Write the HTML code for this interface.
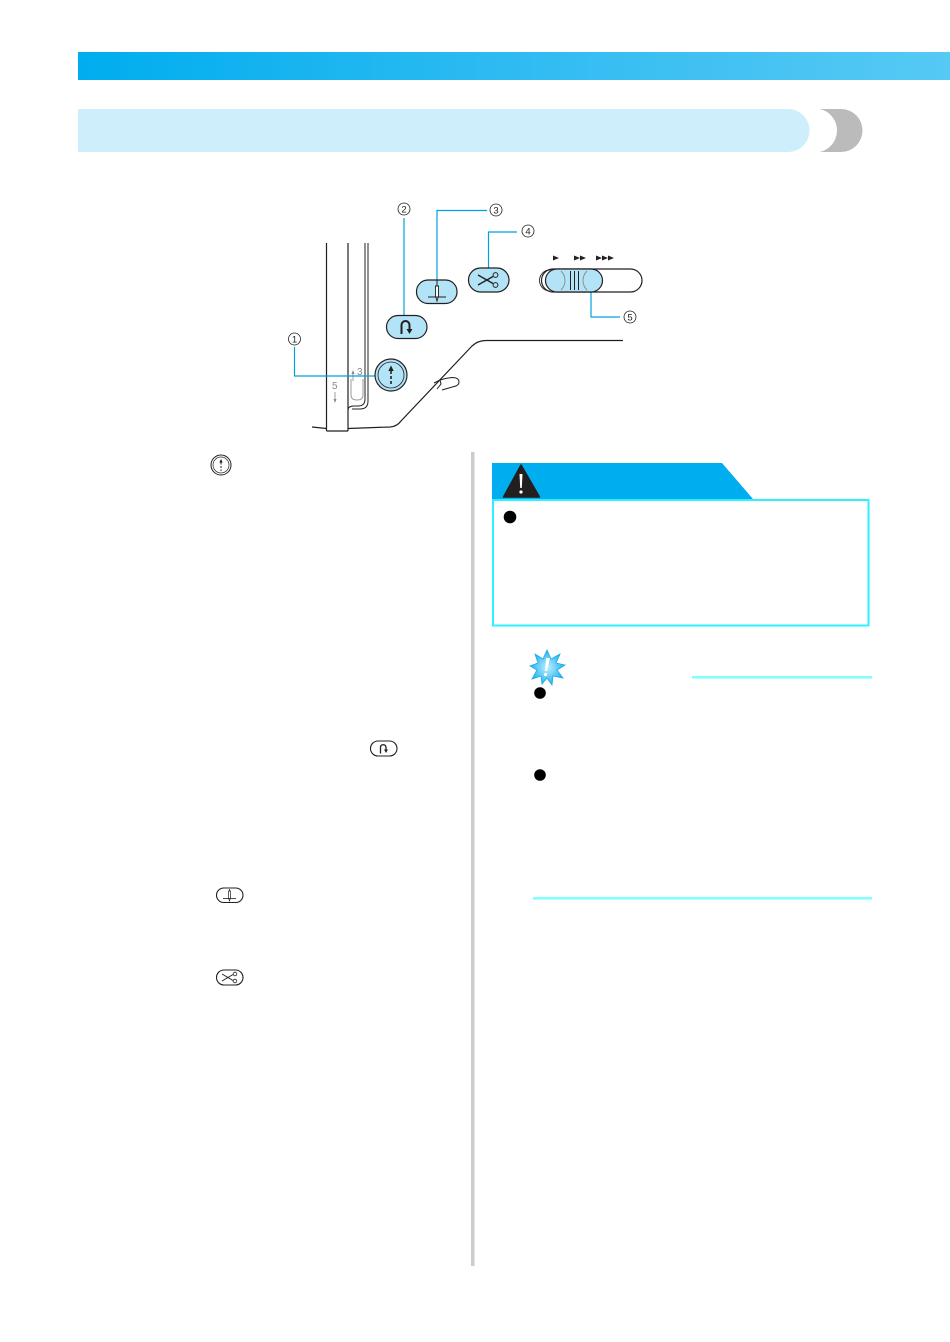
<!DOCTYPE html>
<html><head><meta charset="utf-8">
<style>
html,body{margin:0;padding:0;background:#fff;}
body{width:950px;height:1342px;overflow:hidden;position:relative;font-family:"Liberation Sans","DejaVu Sans",sans-serif;}
svg{position:absolute;left:0;top:0;}
</style></head><body>
<svg width="950" height="1342" viewBox="0 0 950 1342" xmlns="http://www.w3.org/2000/svg">
<defs>
<linearGradient id="tb" x1="0" x2="1" y1="0" y2="0">
<stop offset="0" stop-color="#00adee"/>
<stop offset="0.6" stop-color="#38bef2"/>
<stop offset="1" stop-color="#56c9f4"/>
</linearGradient>
<radialGradient id="star" cx="0.5" cy="0.5" r="0.5">
<stop offset="0" stop-color="#bfeeff"/>
<stop offset="1" stop-color="#1fb3ee"/>
</radialGradient>
</defs>

<!-- top bar -->
<rect x="78" y="52" width="872" height="28" fill="url(#tb)"/>

<!-- section title bar -->
<path d="M816 109 H841 A21.5 21.5 0 0 1 841 152 H816 Z" fill="#bbbbbb"/>
<circle cx="815" cy="130.5" r="22" fill="#fff"/>
<path d="M78 109 H788 A21.5 21.5 0 0 1 788 152 H78 Z" fill="#cdeefa"/>

<!-- ===== Diagram ===== -->
<g fill="none" stroke="#231f20" stroke-width="1.2">
  <line x1="326.5" y1="243" x2="326.5" y2="431"/>
  <line x1="348" y1="243" x2="348" y2="431"/>
  <line x1="326.5" y1="431" x2="348" y2="431"/>
  <path d="M312 427 L326.5 428.5"/>
  <path d="M365 243 V399 Q365 406 358 406 H354 Q348 406 348 410" stroke-width="1"/>
  <path d="M368 243 V401 Q368 409 360 409 H352" stroke-width="1"/>
  <path d="M348 428.5 L390 427 Q397 426.5 401 421 L472 346 Q478 340.5 486 340.5 L623 340.5"/>
  <path d="M434 383 L440 380 Q446 378 452 377.5 Q459 377.5 459 382 Q459 385.5 454 386.5 L442 390" stroke-width="1"/>
  <path d="M440 380 L441 384 L437 389" stroke-width="1"/>
</g>
<path d="M351 379 V395 Q351 400 357 400 Q363 400 363 395 V379" fill="none" stroke="#9a9a9a" stroke-width="1"/>
<text x="357" y="375" font-family="Liberation Sans, sans-serif" font-size="10" fill="#888">3</text>
<path d="M353 370 L351.5 374 H354.5 Z" fill="#888"/>
<line x1="353" y1="373" x2="353" y2="381" stroke="#888" stroke-width="0.8"/>
<text x="332" y="389" font-family="Liberation Sans, sans-serif" font-size="10" fill="#888">5</text>
<line x1="335" y1="392" x2="335" y2="400" stroke="#888" stroke-width="0.8"/>
<path d="M335 403 L333.5 399 H336.5 Z" fill="#888"/>

<!-- leader lines (blue) -->
<g fill="none" stroke="#00a0e0" stroke-width="1.2">
  <path d="M294.5 347 V376 H375"/>
  <path d="M404 218 V317"/>
  <path d="M487 210.5 H437 V280"/>
  <path d="M517 232 H488.5 V268"/>
  <path d="M591 292 V317 H620"/>
</g>

<!-- circled numbers -->
<g fill="none" stroke="#231f20" stroke-width="0.8">
  <circle cx="294.5" cy="339" r="6"/>
  <circle cx="404" cy="209" r="6"/>
  <circle cx="496" cy="210" r="6"/>
  <circle cx="528" cy="231" r="6"/>
  <circle cx="630" cy="317" r="6"/>
</g>
<g font-family="Liberation Sans, sans-serif" font-size="9.5" fill="#231f20" text-anchor="middle">
  <text x="294.5" y="342.5">1</text>
  <text x="404" y="212.5">2</text>
  <text x="496" y="213.5">3</text>
  <text x="528" y="234.5">4</text>
  <text x="630" y="320.5">5</text>
</g>

<!-- button 1 circle -->
<circle cx="391" cy="375" r="16" fill="#b3e3f6" stroke="#231f20" stroke-width="1.2"/>
<circle cx="391" cy="375" r="13" fill="none" stroke="#231f20" stroke-width="0.8"/>
<path d="M391 365.5 L388.3 371 H393.7 Z" fill="#231f20"/>
<line x1="391" y1="371" x2="391" y2="385" stroke="#231f20" stroke-width="1.6" stroke-dasharray="3,2"/>

<!-- button 2 -->
<rect x="386.5" y="315.5" width="40.5" height="23" rx="11.5" fill="#b3e3f6" stroke="#231f20" stroke-width="1.2"/>
<path d="M401.5 334 V325 A4 4 0 0 1 409.5 325 V329" fill="none" stroke="#231f20" stroke-width="2"/>
<path d="M406.5 329 H412.5 L409.5 334 Z" fill="#231f20"/>

<!-- button 3 -->
<rect x="416.5" y="280" width="40.5" height="23.5" rx="11.5" fill="#b3e3f6" stroke="#231f20" stroke-width="1.2"/>
<line x1="437" y1="280" x2="437" y2="301" stroke="#231f20" stroke-width="1"/>
<path d="M435.5 286 H438.5 V296 L437 301 L435.5 296 Z" fill="#fff" stroke="#231f20" stroke-width="0.9"/>
<line x1="428" y1="297" x2="446" y2="297" stroke="#231f20" stroke-width="1"/>

<!-- button 4 -->
<rect x="468.5" y="268" width="40.5" height="24" rx="12" fill="#b3e3f6" stroke="#231f20" stroke-width="1.2"/>
<g stroke="#231f20" stroke-width="1.3" fill="none">
  <line x1="478" y1="275" x2="493" y2="283.5"/>
  <line x1="478" y1="285" x2="493" y2="276.5"/>
  <circle cx="495.5" cy="275" r="2.4" stroke-width="1"/>
  <circle cx="495.5" cy="285" r="2.4" stroke-width="1"/>
</g>

<!-- slider -->
<rect x="541.5" y="269" width="100.5" height="23" rx="11.5" fill="#fff" stroke="#231f20" stroke-width="1.2"/>
<path d="M550 270 A10.5 10.5 0 0 0 550 291" fill="none" stroke="#231f20" stroke-width="0.9"/>
<rect x="545.5" y="269" width="57" height="23" rx="11.5" fill="#b3e3f6" stroke="#231f20" stroke-width="1.2"/>
<g stroke="#231f20" stroke-width="1">
  <line x1="570.5" y1="271" x2="570.5" y2="290"/>
  <line x1="574.5" y1="271" x2="574.5" y2="290"/>
  <line x1="578.5" y1="271" x2="578.5" y2="290"/>
</g>
<path d="M561 271 Q565 275 565 280.5 Q565 286 561 290" fill="none" stroke="#888" stroke-width="0.9"/>
<path d="M587 271 Q583 275 583 280.5 Q583 286 587 290" fill="none" stroke="#888" stroke-width="0.9"/>
<g fill="#231f20">
  <path d="M553 255.5 L559 258 L553 260.5 Z"/>
  <path d="M574 255.5 L580 258 L574 260.5 Z"/>
  <path d="M580 255.5 L586 258 L580 260.5 Z"/>
  <path d="M596 255.5 L602 258 L596 260.5 Z"/>
  <path d="M602 255.5 L608 258 L602 260.5 Z"/>
  <path d="M608 255.5 L614 258 L608 260.5 Z"/>
</g>

<!-- ===== left column icons ===== -->
<circle cx="221" cy="465" r="10" fill="#fff" stroke="#231f20" stroke-width="1"/>
<circle cx="221" cy="465" r="8" fill="none" stroke="#231f20" stroke-width="0.7"/>
<path d="M221 459 L219.3 462.5 H222.7 Z" fill="#231f20"/>
<line x1="221" y1="462.5" x2="221" y2="471" stroke="#231f20" stroke-width="1" stroke-dasharray="2,1.5"/>

<rect x="370.5" y="741" width="26.5" height="15" rx="7.5" fill="#fff" stroke="#231f20" stroke-width="1.1"/>
<path d="M380.5 753.5 V747 A2.8 2.8 0 0 1 386 747 V749.5" fill="none" stroke="#231f20" stroke-width="1.3"/>
<path d="M384 749.5 H388 L386 753 Z" fill="#231f20"/>

<rect x="216.5" y="888" width="26.5" height="14.5" rx="7.2" fill="#fff" stroke="#231f20" stroke-width="1.1"/>
<line x1="229.5" y1="889" x2="229.5" y2="901" stroke="#231f20" stroke-width="0.8"/>
<path d="M228.5 891 H230.5 V898 L229.5 901 L228.5 898 Z" fill="#fff" stroke="#231f20" stroke-width="0.7"/>
<line x1="223" y1="898.5" x2="236" y2="898.5" stroke="#231f20" stroke-width="0.8"/>

<rect x="216.5" y="970" width="26.5" height="15" rx="7.5" fill="#fff" stroke="#231f20" stroke-width="1.1"/>
<g stroke="#231f20" stroke-width="1" fill="none">
  <line x1="222" y1="974" x2="233" y2="980.5"/>
  <line x1="222" y1="981" x2="233" y2="974.5"/>
  <circle cx="235" cy="974" r="1.8" stroke-width="0.8"/>
  <circle cx="235" cy="981" r="1.8" stroke-width="0.8"/>
</g>

<!-- separator -->
<rect x="471" y="452" width="3.5" height="814" fill="#cccccc"/>

<!-- ===== caution ===== -->
<path d="M492 463 H722 L753 499 H492 Z" fill="#00aeef"/>
<path d="M521 465 L503.5 497 H539.5 Z" fill="#231f20" stroke="#231f20" stroke-width="1.5" stroke-linejoin="round"/>
<path d="M519.5 474 H522.5 L521.8 488 H520.2 Z" fill="#fff"/>
<circle cx="521" cy="492" r="1.6" fill="#fff"/>
<rect x="493" y="500" width="375.5" height="125.5" fill="#fff" stroke="#2ff0ff" stroke-width="2"/>
<circle cx="510" cy="517" r="6.3" fill="#000"/>

<!-- ===== note ===== -->
<g transform="translate(547 667)">
  <path d="M0 -17 L4 -8 L13 -13 L9 -4 L18 -2 L10 3 L16 11 L6 9 L5 18 L0 11 L-5 17 L-6 9 L-15 12 L-10 3 L-17 -1 L-9 -4 L-12 -13 L-4 -8 Z" fill="url(#star)" stroke="#1aa9e6" stroke-width="0.8"/>
  <path d="M-1 -9 L3 -9 L0 4 L-2 4 Z" fill="#fff"/>
  <circle cx="-1.5" cy="7.5" r="1.6" fill="#fff"/>
</g>
<rect x="692" y="676" width="180" height="2.6" fill="#80ffff"/>
<circle cx="540" cy="693" r="5.8" fill="#000"/>
<circle cx="540" cy="775" r="5.8" fill="#000"/>
<rect x="533" y="897" width="339" height="2.6" fill="#80ffff"/>
</svg>
</body></html>
